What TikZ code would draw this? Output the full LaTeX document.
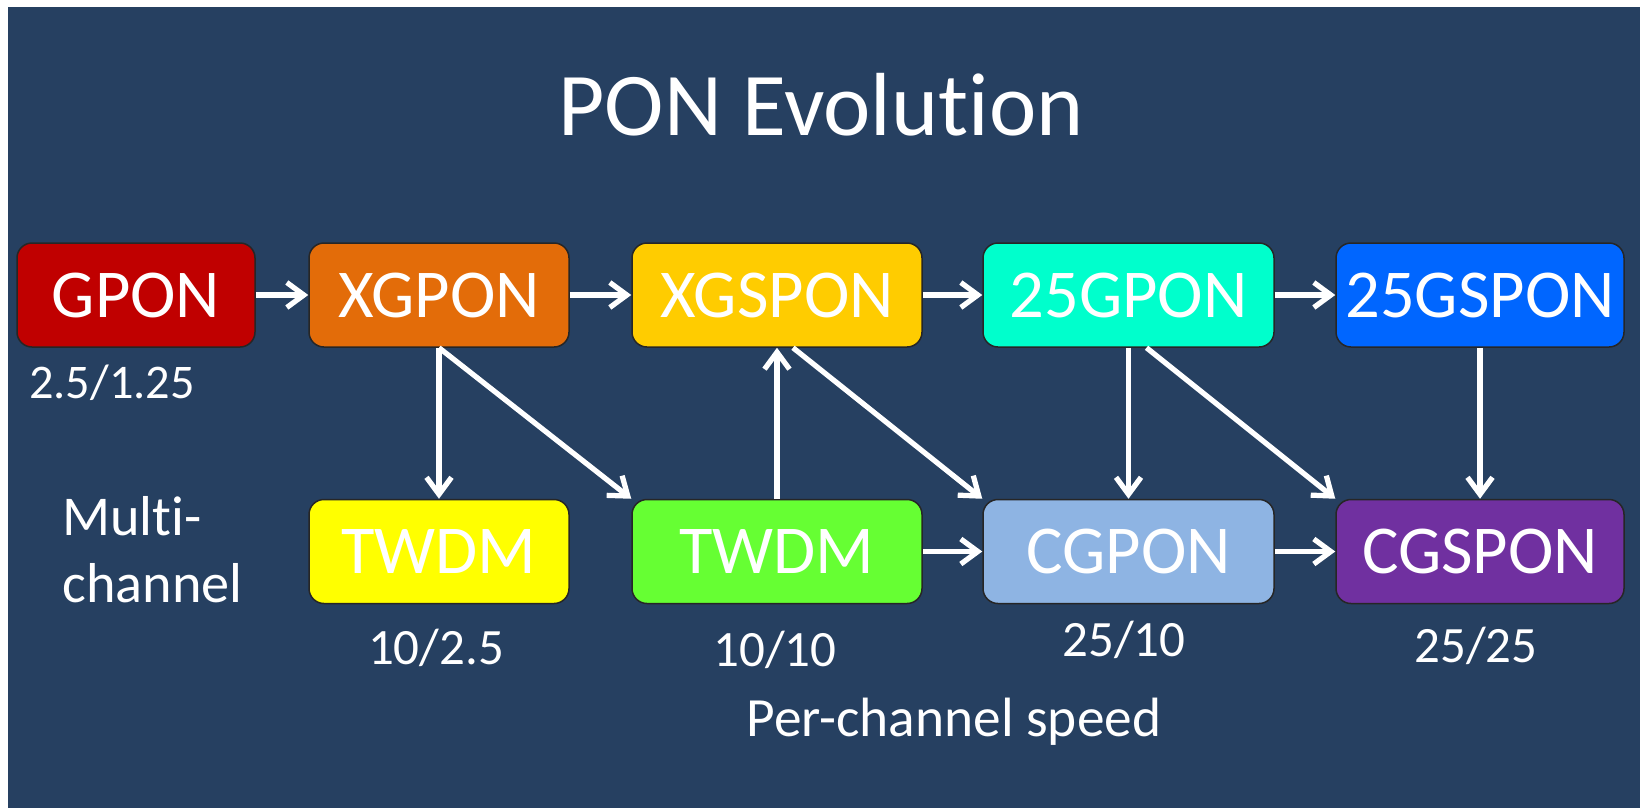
\documentclass[tikz,border=0pt]{standalone}
\usepackage{fontspec}
\setmainfont[Ligatures={NoCommon,NoRequired,NoContextual},Contextuals=NoAlternate]{Carlito}
\usetikzlibrary{arrows.meta}
\definecolor{bgblue}{HTML}{264061}
\definecolor{cgpon}{HTML}{C00000}
\definecolor{cxgpon}{HTML}{E36C09}
\definecolor{cxgspon}{HTML}{FFCC00}
\definecolor{ctwentyfive}{HTML}{00FFCC}
\definecolor{ctwentyfives}{HTML}{0066FF}
\definecolor{ctwdma}{HTML}{FFFF00}
\definecolor{ctwdmb}{HTML}{66FF33}
\definecolor{ccgpon}{HTML}{8EB4E3}
\definecolor{ccgspon}{HTML}{7030A0}
\tikzset{
  pon/.style={rectangle, rounded corners=0.3cm, draw=black!85, line width=0.03cm, inner sep=0pt, minimum height=2.08cm, text=white, font=\fontsize{39}{46}\selectfont},
  arr/.style={draw=white, line width=0.105cm, -{Straight Barb[length=0.34cm,width=0.5cm]}},
  lbl/.style={text=white, inner sep=0pt, font=\fontsize{29}{36}\selectfont}
}

\begin{document}
\begin{tikzpicture}
    \useasboundingbox (0,0) rectangle (32.8,-16.16);
    \fill[white] (0,0) rectangle (32.8,-16.16);
    \fill[bgblue] (0.16,-0.14) rectangle (32.8,-16.16);

    \node[lbl, font=\fontsize{51}{60}\selectfont] (title) at (16.42,-2.1) {PON Evolut\kern0pt ion};

    \node[pon, fill=cgpon, minimum width=4.76cm] (g) at (2.72,-5.9) {GPON};
    \node[pon, fill=cxgpon, minimum width=5.2cm] (xg) at (8.78,-5.9) {XGPON};
    \node[pon, fill=cxgspon, minimum width=5.8cm] (xgs) at (15.54,-5.9) {XGSPON};
    \node[pon, fill=ctwentyfive, minimum width=5.82cm] (tg) at (22.57,-5.9) {25GPON};
    \node[pon, fill=ctwentyfives, minimum width=5.76cm] (tgs) at (29.6,-5.9) {25GSPON};

    \node[pon, fill=ctwdma, minimum width=5.2cm] (tw1) at (8.78,-11.03) {TWDM};
    \node[pon, fill=ctwdmb, minimum width=5.8cm] (tw2) at (15.54,-11.03) {TWDM};
    \node[pon, fill=ccgpon, minimum width=5.82cm] (cg) at (22.57,-11.03) {CGPON};
    \node[pon, fill=ccgspon, minimum width=5.76cm] (cgs) at (29.6,-11.03) {CGSPON};

    \node[lbl, font=\fontsize{27.5}{33}\selectfont] (s1) at (2.24,-7.66) {2.5/1.25};
    \node[lbl, align=left, anchor=west, font=\fontsize{32}{38}\selectfont] (mc) at (1.24,-11.0) {Mult\kern0pt i-\\channel};
    \node[lbl] (s2) at (8.72,-12.96) {10/2.5};
    \node[lbl] (s3) at (15.5,-13.0) {10/10};
    \node[lbl] (s4) at (22.48,-12.8) {25/10};
    \node[lbl] (s5) at (29.52,-12.92) {25/25};
    \node[lbl, font=\fontsize{31.5}{38}\selectfont] (pcs) at (19.08,-14.44) {Per-channel speed};

    \draw[arr] (g) -- (xg);
    \draw[arr] (xg) -- (xgs);
    \draw[arr] (xgs) -- (tg);
    \draw[arr] (tg) -- (tgs);
    \draw[arr] (tw2) -- (cg);
    \draw[arr] (cg) -- (cgs);
    \draw[arr] (xg.south) -- (tw1.north);
    \draw[arr] (xg.south) -- (tw2.north west);
    \draw[arr] (tw2.north) -- (xgs.south);
    \draw[arr] ([xshift=0.32cm]xgs.south) -- (cg.north west);
    \draw[arr] (tg.south) -- (cg.north);
    \draw[arr] ([xshift=0.36cm]tg.south) -- (cgs.north west);
    \draw[arr] (tgs.south) -- (cgs.north);
\end{tikzpicture}
\end{document}
